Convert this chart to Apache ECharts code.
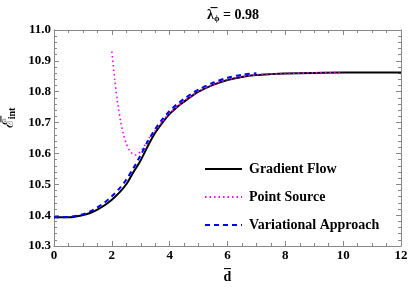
<!DOCTYPE html>
<html><head><meta charset="utf-8">
<script src="https://cdn.jsdelivr.net/npm/echarts@6/dist/echarts.min.js"></script>
<style>html,body{margin:0;padding:0;background:#fff}#c{width:409px;height:291px}</style>
</head><body><div id="c"></div>
<script>
var gfD = [0,0.5,1,1.25,1.5,1.75,2,2.25,2.5,2.75,3,3.25,3.5,3.75,4,4.25,4.5,4.75,5,5.5,6,6.5,7,7.5,8,9,10,12];
var gfE = [10.393,10.393,10.400,10.407,10.418,10.432,10.450,10.472,10.500,10.540,10.578,10.625,10.667,10.700,10.728,10.750,10.768,10.785,10.800,10.822,10.838,10.848,10.854,10.857,10.859,10.861,10.862,10.862];
var psD = [2.0,2.1,2.2,2.3,2.4,2.5,2.6,2.7,2.8,2.9,3.0,3.1,3.2,3.3,3.5,3.75,4,4.5,5,5.5,6,6.5,7,8,9,10];
var psE = [10.93,10.84,10.765,10.705,10.662,10.632,10.612,10.600,10.595,10.598,10.607,10.620,10.636,10.652,10.674,10.704,10.731,10.770,10.801,10.823,10.839,10.849,10.855,10.859,10.861,10.862];
var vaD = [0,0.5,1,1.25,1.5,1.75,2,2.25,2.5,2.75,3,3.25,3.5,3.75,4,4.25,4.5,4.75,5,5.5,6,6.5,7];
var vaE = [10.393,10.394,10.403,10.412,10.425,10.441,10.461,10.485,10.515,10.553,10.595,10.640,10.679,10.711,10.738,10.759,10.777,10.793,10.807,10.829,10.845,10.855,10.860];
var seriesNames = ['Gradient Flow','Point Source','Variational Approach'];
var titleValue = '0.98';

function zip(a,b){return a.map(function(v,i){return [v,b[i]];});}
var FONT = "'Liberation Serif','DejaVu Serif',serif";
var frame = '#888';
var chart = echarts.init(document.getElementById('c'));
function xa(pos, show){
  return {type:'value', min:0, max:12, interval:2, position:pos,
    axisLine:{show:true, onZero:false, lineStyle:{color:frame, width:1}},
    axisTick:{show:true, inside:true, length:5, lineStyle:{color:frame}},
    minorTick:{show:true, splitNumber:4, length:3, lineStyle:{color:frame}},
    splitLine:{show:false},
    axisLabel:{show:show, color:'#000', fontFamily:FONT, fontWeight:'bold', fontSize:13, margin:3},
    name: show ? 'd\u0305' : '', nameLocation:'middle', nameGap:24,
    nameTextStyle:{color:'#000', fontFamily:FONT, fontWeight:'bold', fontSize:14}};
}
function ya(pos, show){
  return {type:'value', min:10.3, max:11.0, interval:0.1, position:pos,
    axisLine:{show:true, onZero:false, lineStyle:{color:frame, width:1}},
    axisTick:{show:true, inside:true, length:5, lineStyle:{color:frame}},
    minorTick:{show:true, splitNumber:5, length:3, lineStyle:{color:frame}},
    splitLine:{show:false},
    axisLabel:{show:show, color:'#000', fontFamily:FONT, fontWeight:'bold', fontSize:13, margin:3,
      formatter:function(v){return v.toFixed(1);}},
    name: show ? '{e|\u2130\u0305}{s|int}' : '', nameLocation:'middle', nameGap:36, nameRotate:90,
    nameTextStyle:{color:'#000', padding:[0,0,0,40],
      rich:{e:{fontFamily:"'DejaVu Serif',serif", fontSize:15, color:'#000'}, s:{fontFamily:FONT, fontWeight:'bold', fontSize:10, color:'#000', padding:[7,0,0,0]}}}};
}
chart.setOption({
  animation:false,
  backgroundColor:'#fff',
  title:{text:'{a|\u03bb\u0305}{s|\u03d5}{a| = '+titleValue+'}', left:228, textAlign:'center', top:2,
    textStyle:{rich:{a:{fontFamily:FONT, fontWeight:'bold', fontSize:14, color:'#000'},
      s:{fontFamily:FONT, fontWeight:'bold', fontSize:9, color:'#000', padding:[7,0,0,0]}}}},
  grid:{left:54, right:8, top:30, bottom:45, outerBoundsMode:'none', containLabel:false},
  xAxis:[xa('bottom',true), xa('top',false)],
  yAxis:[ya('left',true), ya('right',false)],
  legend:{orient:'vertical', left:199, top:157, itemWidth:37, itemHeight:14, itemGap:14,
    data:seriesNames, itemStyle:{opacity:0},
    textStyle:{fontFamily:FONT, fontWeight:'bold', fontSize:14, color:'#000', padding:[0,0,0,2]}},
  series:[
    {name:seriesNames[0], type:'line', data:zip(gfD,gfE), symbol:'none', smooth:0.3, z:2,
      lineStyle:{color:'#000', width:2, type:'solid'}, itemStyle:{color:'#000'}},
    {name:seriesNames[1], type:'line', data:zip(psD,psE), symbol:'none', smooth:0.3, z:3,
      lineStyle:{color:'#ff00ff', width:1.6, type:[1.5,3]}, itemStyle:{color:'#ff00ff'}},
    {name:seriesNames[2], type:'line', data:zip(vaD,vaE), symbol:'none', smooth:0.3, z:4,
      lineStyle:{color:'#0000ff', width:2, type:[5,4]}, itemStyle:{color:'#0000ff'}}
  ]
});
</script></body></html>
